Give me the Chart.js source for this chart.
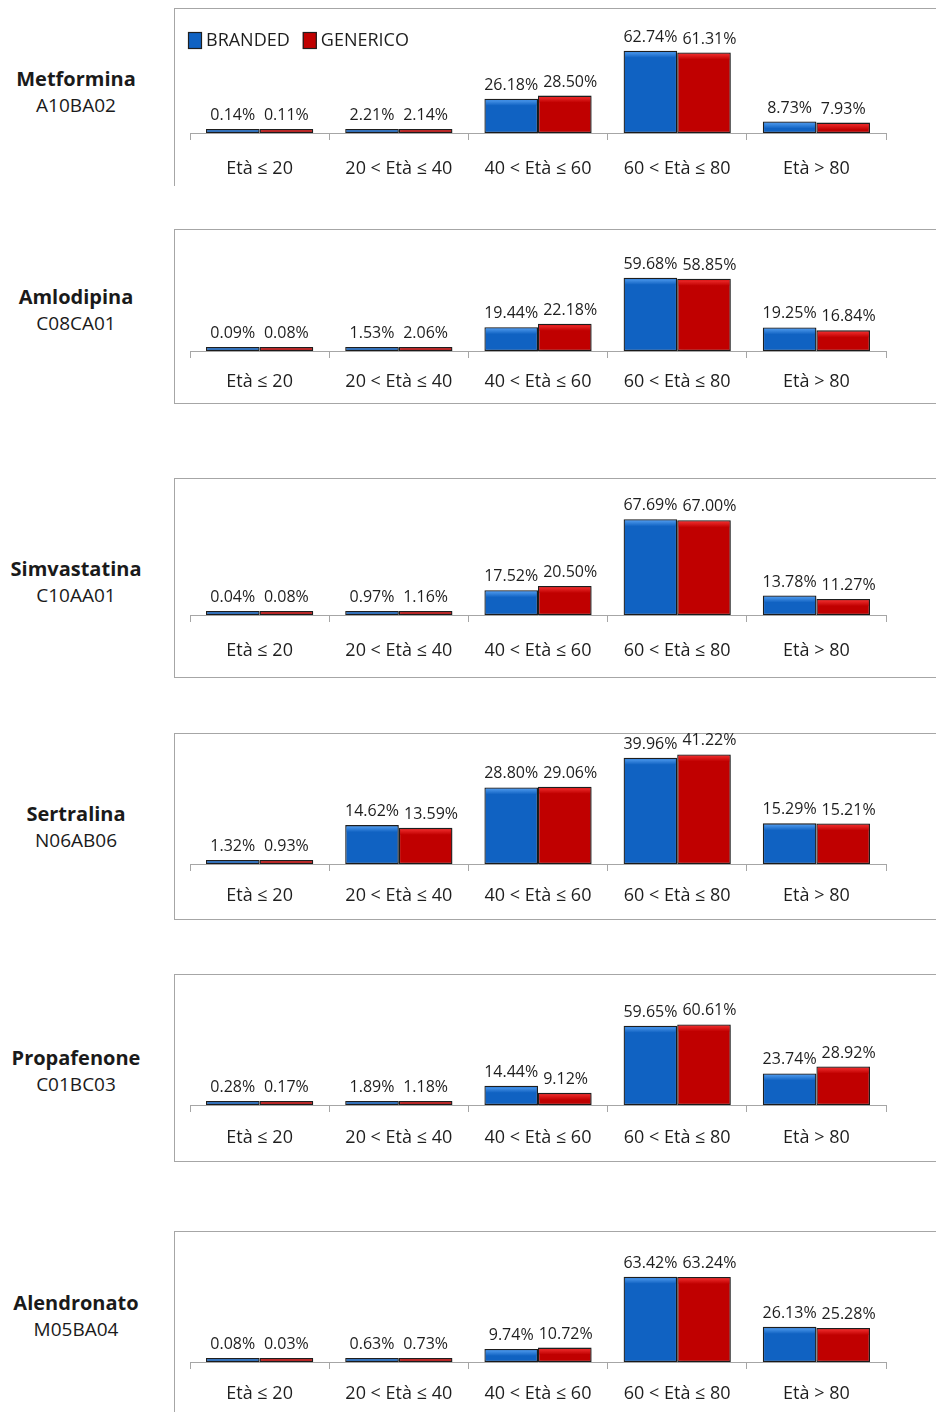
<!DOCTYPE html>
<html>
<head>
<meta charset="utf-8">
<script src="https://cdn.jsdelivr.net/npm/chart.js@4.4.1/dist/chart.umd.min.js"></script>
<style>
  html, body { margin: 0; padding: 0; background: #fff; }
  body { width: 936px; height: 1412px; position: relative; overflow: hidden; font-family: "Open Sans", sans-serif; }
  .box { position: absolute; left: 174px; width: 800px; border: 1px solid #a6a6a6; box-sizing: border-box; }
  .drug { position: absolute; left: 0; width: 152px; text-align: center; color: #1a1a1a; }
  .drug .n { font-weight: 700; font-size: 20px; line-height: 27px; }
  .drug .c { font-size: 19px; line-height: 27px; }
  canvas { position: absolute; left: 174px; }
</style>
</head>
<body>
<script>
// Age bands and series
const categories = ['Età ≤ 20', '20 < Età ≤ 40', '40 < Età ≤ 60', '60 < Età ≤ 80', 'Età > 80'];
const seriesNames = ['BRANDED', 'GENERICO'];

// Active ingredients and ATC codes
const drugs = ['Metformina', 'Amlodipina', 'Simvastatina', 'Sertralina', 'Propafenone', 'Alendronato'];
const atcCodes = ['A10BA02', 'C08CA01', 'C10AA01', 'N06AB06', 'C01BC03', 'M05BA04'];

// Share of patients per age band (%), branded vs generic
const metforminaBranded   = [0.14, 2.21, 26.18, 62.74, 8.73];
const metforminaGenerico  = [0.11, 2.14, 28.50, 61.31, 7.93];
const amlodipinaBranded   = [0.09, 1.53, 19.44, 59.68, 19.25];
const amlodipinaGenerico  = [0.08, 2.06, 22.18, 58.85, 16.84];
const simvastatinaBranded  = [0.04, 0.97, 17.52, 67.69, 13.78];
const simvastatinaGenerico = [0.08, 1.16, 20.50, 67.00, 11.27];
const sertralinaBranded   = [1.32, 14.62, 28.80, 39.96, 15.29];
const sertralinaGenerico  = [0.93, 13.59, 29.06, 41.22, 15.21];
const propafenoneBranded  = [0.28, 1.89, 14.44, 59.65, 23.74];
const propafenoneGenerico = [0.17, 1.18, 9.12, 60.61, 28.92];
const alendronatoBranded  = [0.08, 0.63, 9.74, 63.42, 26.13];
const alendronatoGenerico = [0.03, 0.73, 10.72, 63.24, 25.28];

const brandedSeries = [metforminaBranded, amlodipinaBranded, simvastatinaBranded, sertralinaBranded, propafenoneBranded, alendronatoBranded];
const genericoSeries = [metforminaGenerico, amlodipinaGenerico, simvastatinaGenerico, sertralinaGenerico, propafenoneGenerico, alendronatoGenerico];

// Value axis maximum of each panel
const axisMax = [80, 88, 87, 44, 88, 87];

// Page layout of each panel (frame, baseline, plot top, label gap, caption centre)
const panelLayout = [
  { boxTop: 8,    boxBottom: 186,  open: true,  baseline: 133,  plotTop: 28,   tickPad: 18, captionY: 78 },
  { boxTop: 229,  boxBottom: 404,  open: false, baseline: 351,  plotTop: 243,  tickPad: 13, captionY: 296 },
  { boxTop: 478,  boxBottom: 678,  open: false, baseline: 615,  plotTop: 492,  tickPad: 18, captionY: 568 },
  { boxTop: 733,  boxBottom: 920,  open: false, baseline: 864,  plotTop: 747,  tickPad: 14, captionY: 813 },
  { boxTop: 974,  boxBottom: 1162, open: false, baseline: 1105, plotTop: 988,  tickPad: 15, captionY: 1057 },
  { boxTop: 1231, boxBottom: 1440, open: true,  baseline: 1362, plotTop: 1245, tickPad: 14, captionY: 1302 }
];

const AXIS_H = 58;
const TEXT = '#1e1e1e';
const GRID = '#a6a6a6';
const OUTLINE = '#1f1f1f';
const BLUE = '#1062c2', BLUE_HI = '#4a96ea';
const RED = '#c00000', RED_HI = '#ec2a2a';

// soft drop shadow behind the bars
const barShadow = {
  id: 'barShadow',
  beforeDatasetsDraw(chart) {
    const c = chart.ctx;
    c.save();
    c.shadowColor = 'rgba(0,0,0,0.28)';
    c.shadowBlur = 3;
    c.shadowOffsetX = 2;
    c.shadowOffsetY = 1;
  },
  afterDatasetsDraw(chart) {
    chart.ctx.restore();
  }
};

// light bevel along the top edge of each bar
const barSheen = {
  id: 'barSheen',
  afterDatasetsDraw(chart) {
    const c = chart.ctx;
    c.save();
    chart.data.datasets.forEach((ds, i) => {
      chart.getDatasetMeta(i).data.forEach(bar => {
        const h = bar.base - bar.y;
        if (h < 9) return;
        const w = bar.width;
        const g = c.createLinearGradient(0, bar.y + 1.5, 0, bar.y + 7);
        g.addColorStop(0, ds.sheenColor);
        g.addColorStop(1, ds.backgroundColor);
        c.fillStyle = g;
        c.fillRect(bar.x - w / 2 + 1.5, bar.y + 1.5, w - 3, 5.5);
      });
    });
    c.restore();
  }
};

// percentage written above every bar; the second label of a pair
// is nudged right when it would collide with the first one
const valueLabels = {
  id: 'valueLabels',
  afterDatasetsDraw(chart) {
    const c = chart.ctx;
    c.save();
    c.font = '16px "Open Sans"';
    c.fillStyle = TEXT;
    c.textAlign = 'center';
    c.textBaseline = 'alphabetic';
    const rightEdge = [];
    chart.data.datasets.forEach((ds, i) => {
      chart.getDatasetMeta(i).data.forEach((bar, j) => {
        const txt = ds.data[j].toFixed(2) + '%';
        const w = c.measureText(txt).width;
        let x = bar.x;
        if (rightEdge[j] !== undefined) x = Math.max(x, rightEdge[j] + 5 + w / 2);
        c.fillText(txt, x, bar.y - 9);
        rightEdge[j] = x + w / 2;
      });
    });
    c.restore();
  }
};

// series key drawn in a single row at the top-left of the plot
const seriesKey = {
  id: 'seriesKey',
  afterDraw(chart, args, opts) {
    if (!opts.show) return;
    const c = chart.ctx;
    const area = chart.chartArea;
    c.save();
    c.font = '18px "Open Sans"';
    c.textBaseline = 'middle';
    c.textAlign = 'left';
    let x = area.left - 2;
    const y = area.top + 4;
    chart.data.datasets.forEach(ds => {
      c.fillStyle = ds.backgroundColor;
      c.fillRect(x, y, 14, 17);
      c.strokeStyle = OUTLINE;
      c.lineWidth = 1.2;
      c.strokeRect(x + 0.5, y + 0.5, 13, 16);
      c.fillStyle = TEXT;
      c.fillText(ds.label, x + 18, y + 9);
      x += 18 + c.measureText(ds.label).width + 13;
    });
    c.restore();
  }
};

function buildPanel(k) {
  const L = panelLayout[k];

  const box = document.createElement('div');
  box.className = 'box';
  box.style.top = L.boxTop + 'px';
  box.style.height = (L.boxBottom - L.boxTop) + 'px';
  if (L.open) box.style.borderBottom = 'none';
  document.body.appendChild(box);

  const cap = document.createElement('div');
  cap.className = 'drug';
  cap.style.top = (L.captionY - 13.5) + 'px';
  cap.innerHTML = '<div class="n">' + drugs[k] + '</div><div class="c">' + atcCodes[k] + '</div>';
  document.body.appendChild(cap);

  // canvas starts a little above the frame so high labels are never clipped
  const canvasTop = L.boxTop - 12;
  const cv = document.createElement('canvas');
  cv.width = 762;
  cv.height = L.baseline - canvasTop + AXIS_H;
  cv.style.top = canvasTop + 'px';
  document.body.appendChild(cv);

  new Chart(cv, {
    type: 'bar',
    data: {
      labels: categories,
      datasets: [
        { label: seriesNames[0], data: brandedSeries[k], backgroundColor: BLUE, sheenColor: BLUE_HI, borderColor: OUTLINE },
        { label: seriesNames[1], data: genericoSeries[k], backgroundColor: RED, sheenColor: RED_HI, borderColor: OUTLINE }
      ]
    },
    options: {
      responsive: false,
      animation: false,
      devicePixelRatio: 1,
      layout: { padding: { left: 16, right: 50, top: L.plotTop - canvasTop, bottom: 0 } },
      datasets: {
        bar: {
          categoryPercentage: 0.77,
          barPercentage: 1.0,
          borderWidth: 1.3,
          borderSkipped: false,
          minBarLength: 4
        }
      },
      scales: {
        x: {
          grid: { display: true, drawOnChartArea: false, drawTicks: true, tickLength: 7, color: GRID, offset: true },
          border: { display: true, color: GRID, width: 1 },
          ticks: { color: TEXT, font: { family: 'Open Sans', size: 18 }, padding: L.tickPad, maxRotation: 0, autoSkip: false },
          afterFit(scale) { scale.height = AXIS_H; }
        },
        y: { display: false, min: 0, max: axisMax[k] }
      },
      plugins: {
        legend: { display: false },
        tooltip: { enabled: false },
        seriesKey: { show: k === 0 }
      }
    },
    plugins: [barShadow, barSheen, valueLabels, seriesKey]
  });
}

Promise.all([
  document.fonts.load('16px "Open Sans"'),
  document.fonts.load('18px "Open Sans"'),
  document.fonts.load('bold 20px "Open Sans"')
]).catch(() => {}).then(() => {
  for (let k = 0; k < drugs.length; k++) buildPanel(k);
});
</script>
</body>
</html>
